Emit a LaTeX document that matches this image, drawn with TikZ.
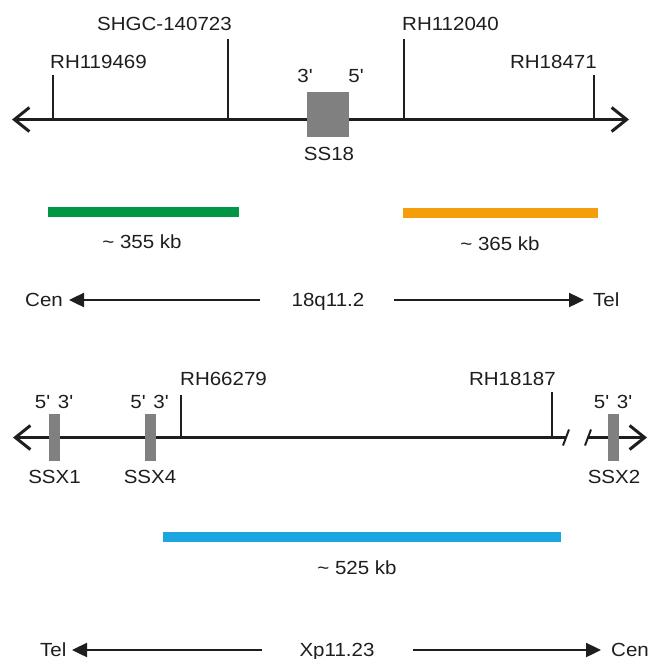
\documentclass[tikz,border=0pt]{standalone}
\usepackage{fontspec}
\setmainfont{Liberation Sans}[FakeStretch=1.08]
\usetikzlibrary{arrows.meta,positioning}
\definecolor{kbgreen}{RGB}{0,150,70}
\definecolor{kborange}{RGB}{245,158,12}
\definecolor{kbblue}{RGB}{27,166,226}
\definecolor{genegray}{RGB}{128,128,128}
\definecolor{inkgray}{RGB}{30,30,30}
\newcommand{\pr}{\textquotesingle}
\tikzset{
  chrom/.style={line width=3pt,inkgray},
  barbs/.style={{Straight Barb[length=15pt,width=24pt]}-{Straight Barb[length=15pt,width=24pt]}},
  tickline/.style={line width=2pt,inkgray},
  dirarrow/.style={line width=2.4pt,inkgray,-{Triangle[length=15pt,width=14pt]}},
  lbl/.style={font=\fontsize{19pt}{21pt}\selectfont,text=inkgray,inner sep=0pt,anchor=base},
  genebox/.style={fill=genegray,draw=none,inner sep=0pt},
  kbbar/.style={draw=none,inner sep=0pt,minimum height=10pt}
}
\begin{document}
\begin{tikzpicture}[x=1pt,y=-1pt]
\useasboundingbox (0,0) rectangle (651,659);

\coordinate (lineL) at (12,119.5);
\coordinate (lineR) at (629,119.5);
\draw[chrom,barbs] (lineL) -- (lineR);

\coordinate (t1) at (53,119.5);   \coordinate (t1top) at (53,75);
\coordinate (t2) at (228,119.5);  \coordinate (t2top) at (228,39);
\coordinate (t3) at (404,119.5);  \coordinate (t3top) at (404,39);
\coordinate (t4) at (594,119.5);  \coordinate (t4top) at (594,75);
\draw[tickline] (t1) -- (t1top);
\draw[tickline] (t2) -- (t2top);
\draw[tickline] (t3) -- (t3top);
\draw[tickline] (t4) -- (t4top);
\node[lbl,anchor=base west] (rh119469) at (50,68) {RH119469};
\node[lbl,anchor=base east] (shgc) at (232,30) {SHGC-140723};
\node[lbl,anchor=base west] (rh112040) at (402,30) {RH112040};
\node[lbl,anchor=base east] (rh18471) at (597,68) {RH18471};

\node[genebox,minimum width=42pt,minimum height=45pt] (ss18) at (328,114.5) {};
\node[lbl] (ss18three) at (305,82) {3\pr};
\node[lbl] (ss18five) at (356,82) {5\pr};
\node[lbl] (ss18name) at (329,160) {SS18};

\node[kbbar,fill=kbgreen,minimum width=191pt] (bar355) at (143.5,212) {};
\node[lbl] (kb355) at (142,248) {\textasciitilde\ 355 kb};
\node[kbbar,fill=kborange,minimum width=195pt] (bar365) at (500.5,213) {};
\node[lbl] (kb365) at (500,250) {\textasciitilde\ 365 kb};

\node[lbl,anchor=base west] (cenA) at (25,306.5) {Cen};
\node[lbl] (q18) at (328,306.5) {18q11.2};
\node[lbl,anchor=base west] (telA) at (593,306.5) {Tel};
\coordinate (qL) at (260,300); \coordinate (qLtip) at (69,300);
\coordinate (qR) at (394,300); \coordinate (qRtip) at (584,300);
\draw[dirarrow] (qL) -- (qLtip);
\draw[dirarrow] (qR) -- (qRtip);

\coordinate (xL) at (13,437.5);
\coordinate (xbreakL) at (566,437.5);
\coordinate (xbreakR) at (588,437.5);
\coordinate (xR) at (647,437.5);
\draw[chrom,{Straight Barb[length=15pt,width=24pt]}-] (xL) -- (xbreakL);
\draw[chrom,-{Straight Barb[length=15pt,width=24pt]}] (xbreakR) -- (xR);
\draw[tickline] ([shift={(-3,8)}]xbreakL) -- ([shift={(3,-8)}]xbreakL);
\draw[tickline] ([shift={(-3,8)}]xbreakR) -- ([shift={(3,-8)}]xbreakR);

\coordinate (t5) at (181,437.5);  \coordinate (t5top) at (181,395);
\coordinate (t6) at (552,437.5);  \coordinate (t6top) at (552,392);
\draw[tickline] (t5) -- (t5top);
\draw[tickline] (t6) -- (t6top);
\node[lbl,anchor=base west] (rh66279) at (180,385) {RH66279};
\node[lbl,anchor=base east] (rh18187) at (556,385) {RH18187};

\foreach \gname/\gx in {ssx1/54.5,ssx4/150,ssx2/613.5}{
  \node[genebox,minimum width=11pt,minimum height=47pt] (\gname) at (\gx,437.5) {};
  \node[lbl] (\gname five) at (\gx-12,408) {5\pr};
  \node[lbl] (\gname three) at (\gx+11,408) {3\pr};
}
\node[lbl] (ssx1name) at (54.5,483) {SSX1};
\node[lbl] (ssx4name) at (150,483) {SSX4};
\node[lbl] (ssx2name) at (614,483) {SSX2};

\node[kbbar,fill=kbblue,minimum width=398pt] (bar525) at (362,537) {};
\node[lbl] (kb525) at (357,574) {\textasciitilde\ 525 kb};

\node[lbl,anchor=base west] (telB) at (40,656.5) {Tel};
\node[lbl] (xp) at (337,656.5) {Xp11.23};
\node[lbl,anchor=base west] (cenB) at (611,656.5) {Cen};
\coordinate (xpL) at (262,650); \coordinate (xpLtip) at (72,650);
\coordinate (xpR) at (413,650); \coordinate (xpRtip) at (601,650);
\draw[dirarrow] (xpL) -- (xpLtip);
\draw[dirarrow] (xpR) -- (xpRtip);
\end{tikzpicture}
\end{document}
